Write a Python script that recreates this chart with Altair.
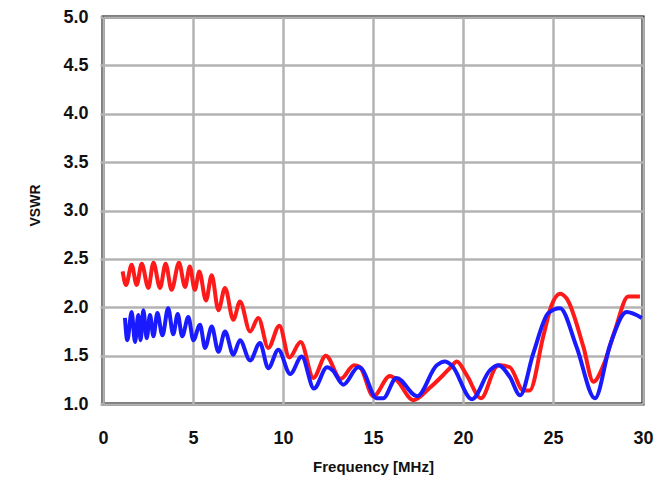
import altair as alt
import pandas as pd

red_freq = [1.09, 1.28, 1.59, 1.87, 2.15, 2.52, 2.80, 3.17, 3.48, 3.81, 4.22, 4.56, 4.82,
            5.10, 5.35, 5.72, 6.04, 6.41, 6.78, 7.24, 7.61, 8.17, 8.63, 9.18, 9.80, 10.35,
            10.98, 11.69, 12.38, 13.20, 13.95, 14.28, 15.02, 15.94, 16.30, 17.24, 18.17,
            18.90, 19.37, 19.65, 20.20, 21.00, 21.87, 22.06, 22.60, 23.35, 23.70, 24.46,
            24.90, 25.39, 25.76, 26.69, 27.24, 27.80, 28.44, 29.18, 29.83]
red_vswr = [2.37, 2.23, 2.44, 2.23, 2.45, 2.20, 2.46, 2.20, 2.45, 2.18, 2.46, 2.21, 2.42,
            2.18, 2.37, 2.07, 2.33, 1.97, 2.20, 1.87, 2.06, 1.75, 1.89, 1.58, 1.81, 1.48,
            1.64, 1.27, 1.50, 1.26, 1.40, 1.38, 1.08, 1.29, 1.25, 1.04, 1.17,
            1.30, 1.39, 1.44, 1.30, 1.06, 1.39, 1.40, 1.38, 1.14, 1.14, 1.70,
            2.01, 2.14, 2.09, 1.59, 1.23, 1.40, 1.76, 2.11, 2.11]

blue_freq = [1.22, 1.35, 1.59, 1.78, 1.96, 2.09, 2.24, 2.43, 2.61, 2.80, 3.02, 3.30, 3.62,
             3.90, 4.15, 4.40, 4.74, 5.02, 5.39, 5.67, 6.04, 6.41, 6.78, 7.24, 7.61, 8.17,
             8.72, 9.18, 9.74, 10.40, 11.04, 11.72, 12.45, 12.75, 13.35, 14.18, 14.35,
             15.20, 15.57, 16.30, 17.45, 18.54, 19.00, 19.37, 20.50, 21.50, 21.96, 22.60,
             23.17, 23.90, 24.74, 25.39, 26.31, 27.33, 28.17, 29.09, 29.93]
blue_vswr = [1.89, 1.66, 1.95, 1.64, 1.92, 1.66, 1.97, 1.68, 1.92, 1.70, 1.94, 1.71, 1.99,
             1.72, 1.93, 1.70, 1.90, 1.66, 1.82, 1.58, 1.80, 1.54, 1.75, 1.51, 1.66, 1.45,
             1.63, 1.37, 1.56, 1.31, 1.49, 1.16, 1.38, 1.35, 1.20, 1.38, 1.37,
             1.06, 1.06, 1.27, 1.08, 1.40, 1.44, 1.40, 1.05, 1.35, 1.40, 1.28,
             1.09, 1.52, 1.94, 1.99, 1.59, 1.06, 1.61, 1.95, 1.89]

x_ticks = [0, 5, 10, 15, 20, 25, 30]
y_ticks = [1.0, 1.5, 2.0, 2.5, 3.0, 3.5, 4.0, 4.5, 5.0]

red_df = pd.DataFrame({"f": red_freq, "v": red_vswr})
blue_df = pd.DataFrame({"f": blue_freq, "v": blue_vswr})

x_enc = alt.X("f:Q", scale=alt.Scale(domain=[0, 30], nice=False),
              axis=alt.Axis(values=x_ticks, title="Frequency [MHz]", format="d",
                            grid=True, gridColor="#b3b3b3", gridWidth=2.5,
                            domain=False, ticks=False, labelPadding=25,
                            labelFlush=False,
                            labelFont="Liberation Sans", labelFontWeight="bold",
                            labelFontSize=18, labelColor="#111111",
                            titleFont="Liberation Sans", titleFontWeight="bold",
                            titleFontSize=15, titleColor="#111111",
                            titleBaseline="middle", titleY=62))
y_enc = alt.Y("v:Q", scale=alt.Scale(domain=[1, 5], nice=False),
              axis=alt.Axis(values=y_ticks, title="VSWR", format=".1f",
                            grid=True, gridColor="#b3b3b3", gridWidth=2.5,
                            domain=False, ticks=True, tickColor="#b3b3b3",
                            tickSize=3, tickWidth=2.5, labelPadding=12,
                            labelFlush=False,
                            labelFont="Liberation Sans", labelFontWeight="bold",
                            labelFontSize=18, labelColor="#111111",
                            labelBaseline="middle",
                            titleFont="Liberation Sans", titleFontWeight="bold",
                            titleFontSize=14, titleColor="#111111",
                            titleBaseline="middle", titleX=-68, titleY=188))

red = alt.Chart(red_df).mark_line(color="#ff1a1a", strokeWidth=4,
                                  interpolate="monotone").encode(x=x_enc, y=y_enc)
blue = alt.Chart(blue_df).mark_line(color="#1a1aff", strokeWidth=4,
                                    interpolate="monotone").encode(x=x_enc, y=y_enc)

chart = alt.layer(red, blue).properties(
    width=540, height=387,
    autosize=alt.AutoSizeParams(type="none"),
    padding={"left": 103, "top": 17, "right": 28, "bottom": 76},
    background="white",
).configure_view(stroke="black", strokeWidth=3)

chart.save("out.html", embed_options={"renderer": "svg", "actions": False})
